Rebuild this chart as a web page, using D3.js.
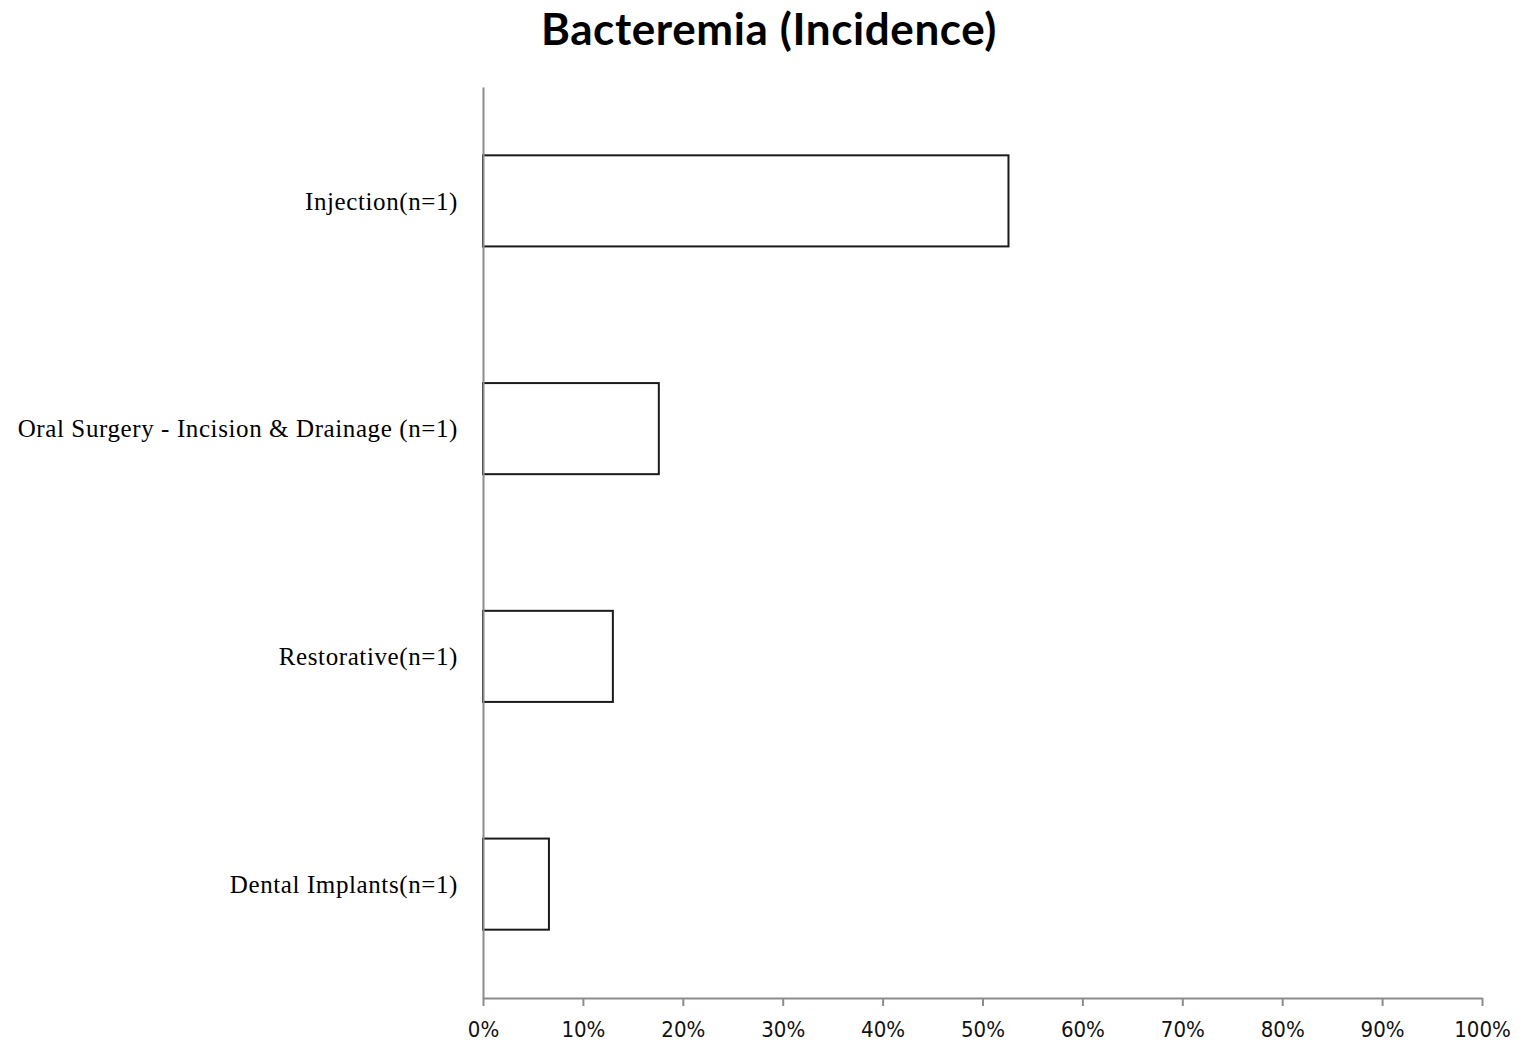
<!DOCTYPE html>
<html>
<head>
<meta charset="utf-8">
<script src="https://cdn.jsdelivr.net/npm/d3@7"></script>
<style>
  html, body { margin: 0; padding: 0; background: #fff; }
  svg { display: block; }
</style>
</head>
<body>
<svg id="chart" width="1519" height="1047"></svg>
<script>
// Procedures and their bacteremia incidence (fraction of cases)
const categories = [
  "Injection(n=1)",
  "Oral Surgery  - Incision & Drainage (n=1)",
  "Restorative(n=1)",
  "Dental Implants(n=1)"
];
const incidence = [0.526, 0.176, 0.130, 0.066];
const tickValues = [0, 0.1, 0.2, 0.3, 0.4, 0.5, 0.6, 0.7, 0.8, 0.9, 1.0];
const chartTitle = "Bacteremia (Incidence)";

const svg = d3.select("#chart");
const margin = { top: 87, right: 37, bottom: 49, left: 483 };
const W = 1519, H = 1047;
const innerW = W - margin.left - margin.right;
const innerH = H - margin.top - margin.bottom;

const x = d3.scaleLinear().domain([0, 1]).range([0, innerW]);
const y = d3.scaleBand().domain(categories).range([0, innerH])
  .paddingInner(0.6).paddingOuter(0.3);

const g = svg.append("g").attr("transform", `translate(${margin.left},${margin.top})`);

// Title
svg.append("text")
  .attr("x", 769).attr("y", 45)
  .attr("text-anchor", "middle")
  .attr("font-family", "Lato, 'Open Sans', sans-serif")
  .attr("font-weight", "bold")
  .attr("font-size", 44)
  .attr("letter-spacing", 0.6)
  .attr("fill", "#000")
  .text(chartTitle);

// Bars
g.selectAll("rect.bar")
  .data(categories.map((c, i) => ({ c, v: incidence[i] })))
  .join("rect")
  .attr("class", "bar")
  .attr("x", 0)
  .attr("y", d => y(d.c))
  .attr("width", d => x(d.v))
  .attr("height", y.bandwidth())
  .attr("fill", "#fff")
  .attr("stroke", "#1a1a1a")
  .attr("stroke-width", 2);

// X axis
const xAxis = g.append("g")
  .attr("transform", `translate(0,${innerH})`)
  .call(d3.axisBottom(x).tickValues(tickValues).tickFormat(d3.format(".0%")).tickSize(8).tickSizeOuter(0));
xAxis.select(".domain").attr("stroke", "#8c8c8c").attr("stroke-width", 2);
xAxis.selectAll(".tick line").attr("stroke", "#8c8c8c").attr("stroke-width", 2);
xAxis.selectAll(".tick text")
  .attr("fill", "#111")
  .attr("font-family", "'DejaVu Sans Condensed', 'DejaVu Sans', sans-serif")
  .attr("font-size", 22)
  .attr("dy", "1.25em");

// Y axis (no ticks)
const yAxis = g.append("g")
  .call(d3.axisLeft(y).tickSize(0).tickPadding(25));
yAxis.select(".domain").attr("stroke", "#8c8c8c").attr("stroke-width", 2);
yAxis.selectAll(".tick text")
  .attr("fill", "#000")
  .attr("font-family", "'Liberation Serif', 'Times New Roman', serif")
  .attr("font-size", 25)
  .attr("letter-spacing", 0.6)
  .attr("dy", "0.35em");
</script>
</body>
</html>
